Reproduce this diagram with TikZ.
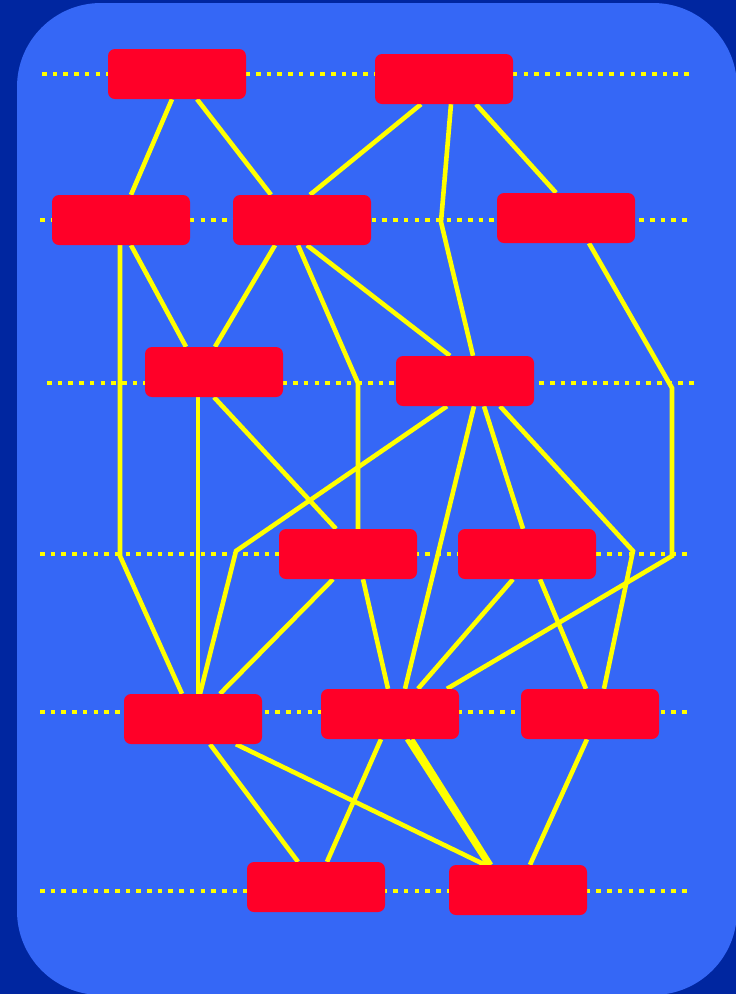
\documentclass[tikz,border=0pt]{standalone}
\definecolor{bgdark}{RGB}{0,38,160}
\definecolor{panelblue}{RGB}{53,103,246}
\definecolor{boxred}{RGB}{255,0,40}
\definecolor{linkyellow}{RGB}{255,255,0}
\pgfdeclarelayer{background}
\pgfsetlayers{background,main}

\begin{document}
\begin{tikzpicture}[x=1pt,y=-1pt]
\tikzset{
  boxnode/.style={rectangle,rounded corners=7pt,fill=boxred,minimum width=138pt,minimum height=50pt,inner sep=0pt},
  linkedge/.style={draw=linkyellow,line width=4.6pt},
  levelline/.style={draw=linkyellow,line width=4.6pt,dash pattern=on 4.6pt off 6.1pt}
}
\useasboundingbox (0,0) rectangle (736,994);
\node[boxnode] (n_A1) at (177,74) {};
\node[boxnode] (n_A2) at (444,79) {};
\node[boxnode] (n_B1) at (121,220) {};
\node[boxnode] (n_B2) at (302,220) {};
\node[boxnode] (n_B3) at (566,218) {};
\node[boxnode] (n_C1) at (214,372) {};
\node[boxnode] (n_C2) at (465,381) {};
\node[boxnode] (n_D1) at (348,554) {};
\node[boxnode] (n_D2) at (527,554) {};
\node[boxnode] (n_E1) at (193,719) {};
\node[boxnode] (n_E2) at (390,714) {};
\node[boxnode] (n_E3) at (590,714) {};
\node[boxnode] (n_F1) at (316,887) {};
\node[boxnode] (n_F2) at (518,890) {};
\begin{pgfonlayer}{background}
\fill[bgdark] (0,0) rectangle (736,994);
\fill[panelblue,rounded corners=84pt] (17,3) rectangle (737,995);
% level guides
\draw[levelline] (42,74) -- (690,74);
\draw[levelline] (40,220) -- (688,220);
\draw[levelline] (47,383) -- (695,383);
\draw[levelline] (40,554) -- (688,554);
\draw[levelline] (40,712) -- (688,712);
\draw[levelline] (40,891) -- (688,891);
% links
\draw[linkedge] ([xshift=-5pt]n_A1.south) -- ([xshift=10pt]n_B1.north);
\draw[linkedge] ([xshift=20pt]n_A1.south) -- ([xshift=-31pt]n_B2.north);
\draw[linkedge] ([xshift=-23pt]n_A2.south) -- ([xshift=8pt]n_B2.north);
\draw[linkedge] ([xshift=7pt]n_A2.south) -- (441,222) -- ([xshift=8pt]n_C2.north);
\draw[linkedge] ([xshift=32pt]n_A2.south) -- ([xshift=-10pt]n_B3.north);
\draw[linkedge] ([xshift=-1pt]n_B1.south) -- (120,556) -- ([xshift=-11pt]n_E1.north);
\draw[linkedge] ([xshift=10pt]n_B1.south) -- ([xshift=-28pt]n_C1.north);
\draw[linkedge] ([xshift=-27pt]n_B2.south) -- ([xshift=1pt]n_C1.north);
\draw[linkedge] ([xshift=-4pt]n_B2.south) -- (358,383) -- ([xshift=10pt]n_D1.north);
\draw[linkedge] ([xshift=5pt]n_B2.south) -- ([xshift=-15pt]n_C2.north);
\draw[linkedge] ([xshift=23pt]n_B3.south) -- (672,388) -- (672,556) -- ([xshift=57pt]n_E2.north);
\draw[linkedge] ([xshift=-16pt]n_C1.south) -- ([xshift=5pt]n_E1.north);
\draw[linkedge] (n_C1.south) -- ([xshift=-12pt]n_D1.north);
\draw[linkedge] ([xshift=-18pt]n_C2.south) -- (236,551) -- ([xshift=7pt]n_E1.north);
\draw[linkedge] ([xshift=9pt]n_C2.south) -- ([xshift=15pt]n_E2.north);
\draw[linkedge] ([xshift=19pt]n_C2.south) -- ([xshift=-4pt]n_D2.north);
\draw[linkedge] ([xshift=35pt]n_C2.south) -- (633,551) -- ([xshift=14pt]n_E3.north);
\draw[linkedge] ([xshift=-15pt]n_D1.south) -- ([xshift=27pt]n_E1.north);
\draw[linkedge] ([xshift=15pt]n_D1.south) -- ([xshift=-2pt]n_E2.north);
\draw[linkedge] ([xshift=-14pt]n_D2.south) -- ([xshift=28pt]n_E2.north);
\draw[linkedge] ([xshift=13pt]n_D2.south) -- ([xshift=-4pt]n_E3.north);
\draw[linkedge] ([xshift=17pt]n_E1.south) -- ([xshift=-18pt]n_F1.north);
\draw[linkedge] ([xshift=43pt]n_E1.south) -- ([xshift=-33pt]n_F2.north);
\draw[linkedge] ([xshift=-9pt]n_E2.south) -- ([xshift=11pt]n_F1.north);
\draw[linkedge] ([xshift=17pt]n_E2.south) -- ([xshift=-30pt]n_F2.north);
\draw[linkedge] ([xshift=22pt]n_E2.south) -- ([xshift=-27pt]n_F2.north);
\draw[linkedge] ([xshift=-3pt]n_E3.south) -- ([xshift=12pt]n_F2.north);
\end{pgfonlayer}
\end{tikzpicture}
\end{document}
